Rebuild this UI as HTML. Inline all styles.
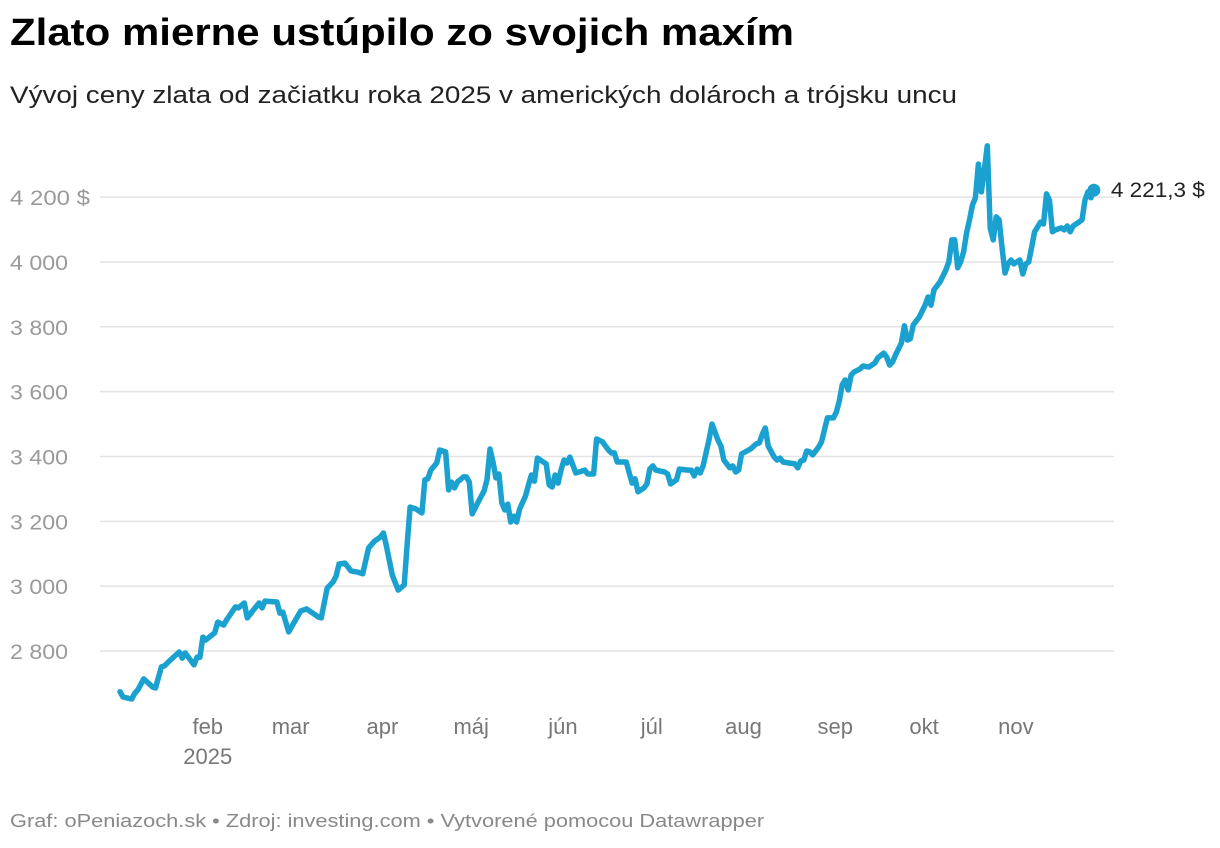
<!DOCTYPE html>
<html><head><meta charset="utf-8"><style>
body{margin:0;background:#fff;font-family:"Liberation Sans",sans-serif;}
#wrap{position:relative;width:1220px;height:848px;overflow:hidden}
h1{position:absolute;left:10px;top:12px;margin:0;font-size:38px;font-weight:bold;color:#000;transform:scaleX(1.105);transform-origin:0 0;white-space:nowrap}
.sub{position:absolute;left:10px;top:82px;font-size:24px;color:#222;transform:scaleX(1.16);transform-origin:0 0;white-space:nowrap}
.foot{position:absolute;left:10px;top:811px;font-size:18px;color:#888;transform:scaleX(1.21);transform-origin:0 0;white-space:nowrap}
svg text{font-family:"Liberation Sans",sans-serif}
</style></head><body>
<div id="wrap">
<h1>Zlato mierne ustúpilo zo svojich maxím</h1>
<div class="sub">Vývoj ceny zlata od začiatku roka 2025 v amerických dolároch a trójsku uncu</div>
<svg id="chart" width="1220" height="848" style="position:absolute;left:0;top:0"></svg>
<div class="foot">Graf: oPeniazoch.sk • Zdroj: investing.com • Vytvorené pomocou Datawrapper</div>
</div>
<script>
const days=[1,2,5,6,7,9,12,13,15,16,18,21,22,23,26,27,28,29,30,33,34,36,37,40,41,43,44,46,48,49,50,54,55,56,58,62,64,68,69,70,71,73,74,75,77,79,81,83,85,87,89,90,91,93,95,97,98,99,101,103,104,105,106,108,109,111,112,113,114,115,117,118,119,120,122,124,125,126,127,128,129,130,131,132,133,134,135,136,138,139,140,141,142,144,145,146,147,148,149,150,151,152,153,155,157,158,159,161,162,164,166,167,168,169,171,172,174,175,176,178,179,180,181,182,185,186,187,189,190,193,194,195,196,197,198,200,201,203,204,205,207,208,209,210,211,214,216,217,218,219,220,222,223,224,225,227,229,230,231,232,233,234,235,237,238,240,241,242,243,244,245,246,247,248,249,251,252,254,256,257,259,260,261,262,263,265,266,267,268,269,271,273,274,275,276,278,280,281,282,283,284,285,286,287,288,289,290,291,292,293,294,295,296,297,298,299,300,301,302,303,305,306,307,308,309,310,312,313,314,315,316,317,319,320,321,322,323,325,326,327,328,329,330];
const prices=[2674,2658,2652,2670,2680,2714,2689,2686,2751,2754,2772,2797,2778,2794,2757,2781,2781,2843,2834,2856,2889,2880,2896,2936,2933,2948,2902,2926,2948,2933,2954,2951,2917,2920,2859,2923,2930,2905,2902,2948,2994,3013,3031,3068,3071,3047,3044,3038,3118,3139,3152,3164,3124,3034,2988,3004,3127,3244,3238,3226,3328,3331,3358,3380,3420,3414,3297,3321,3303,3321,3337,3337,3321,3223,3260,3294,3328,3423,3383,3334,3346,3257,3235,3253,3198,3216,3198,3238,3278,3312,3343,3324,3395,3383,3377,3312,3306,3343,3318,3358,3389,3380,3398,3349,3355,3358,3346,3346,3454,3445,3420,3411,3411,3383,3383,3383,3318,3331,3291,3303,3315,3361,3371,3358,3352,3346,3315,3328,3361,3358,3358,3340,3361,3349,3371,3451,3500,3451,3432,3389,3365,3371,3352,3358,3408,3423,3439,3442,3469,3488,3432,3398,3389,3395,3383,3380,3377,3365,3386,3389,3417,3414,3405,3429,3445,3519,3519,3519,3537,3571,3621,3636,3605,3651,3661,3670,3679,3676,3688,3704,3719,3707,3682,3692,3713,3750,3803,3759,3763,3806,3830,3867,3892,3867,3914,3938,3975,4000,4068,4068,3982,4000,4031,4090,4130,4176,4198,4302,4216,4284,4358,4105,4068,4139,4130,4043,3966,3994,4006,3994,4006,3963,3994,4000,4046,4093,4123,4117,4210,4191,4093,4099,4105,4099,4111,4093,4111,4123,4130,4191,4216,4198,4221.3];
const yTicks=[2800,3000,3200,3400,3600,3800,4000,4200];
const yTickLabels=["2 800","3 000","3 200","3 400","3 600","3 800","4 000","4 200 $"];
const monthDays=[32,60,91,121,152,182,213,244,274,305];
const monthLabels=["feb","mar","apr","máj","jún","júl","aug","sep","okt","nov"];
const lastLabel="4 221,3 $";

const NS="http://www.w3.org/2000/svg";
const svg=document.getElementById('chart');
const X=d=>118+(d-1)*2.96+2;
const Y=v=>651-(v-2800)*0.3242;
function mk(tag,attrs){const e=document.createElementNS(NS,tag);for(const k in attrs)e.setAttribute(k,attrs[k]);svg.appendChild(e);return e;}
yTicks.forEach((t,i)=>{
  const l=mk('line',{x1:100,x2:1114,y1:Y(t),y2:Y(t),stroke:'#e3e3e3','stroke-width':1.5});
  
  
  const tx=mk('text',{x:10,y:Y(t)+8,'font-size':21,fill:'#9a9a9a',textLength:yTickLabels[i].length>5?80:58,lengthAdjust:'spacingAndGlyphs'});
  tx.textContent=yTickLabels[i];
  
  
});
monthDays.forEach((d,i)=>{
  const tx=mk('text',{x:X(d)-4,y:734,'font-size':22,fill:'#777','text-anchor':'middle'});
  tx.textContent=monthLabels[i];
  
  
});
const yr=mk('text',{x:X(monthDays[0])-4,y:764,'font-size':22,fill:'#777','text-anchor':'middle'});
yr.textContent="2025";


const pts=days.map((d,i)=>X(d).toFixed(1)+','+Y(prices[i]).toFixed(1)).join(' ');
const line=mk('polyline',{points:pts,fill:'none',stroke:'#1ba1cf','stroke-width':5.5,'stroke-linejoin':'round','stroke-linecap':'round'});


const n=days.length-1;
const dot=mk('circle',{cx:X(days[n]),cy:Y(prices[n]),r:6.5,fill:'#1ba1cf'});


const lt=mk('text',{x:X(days[n])+17,y:Y(prices[n])+7,'font-size':21,fill:'#222',textLength:94,lengthAdjust:'spacingAndGlyphs'});
lt.textContent=lastLabel;


</script>
</body></html>
